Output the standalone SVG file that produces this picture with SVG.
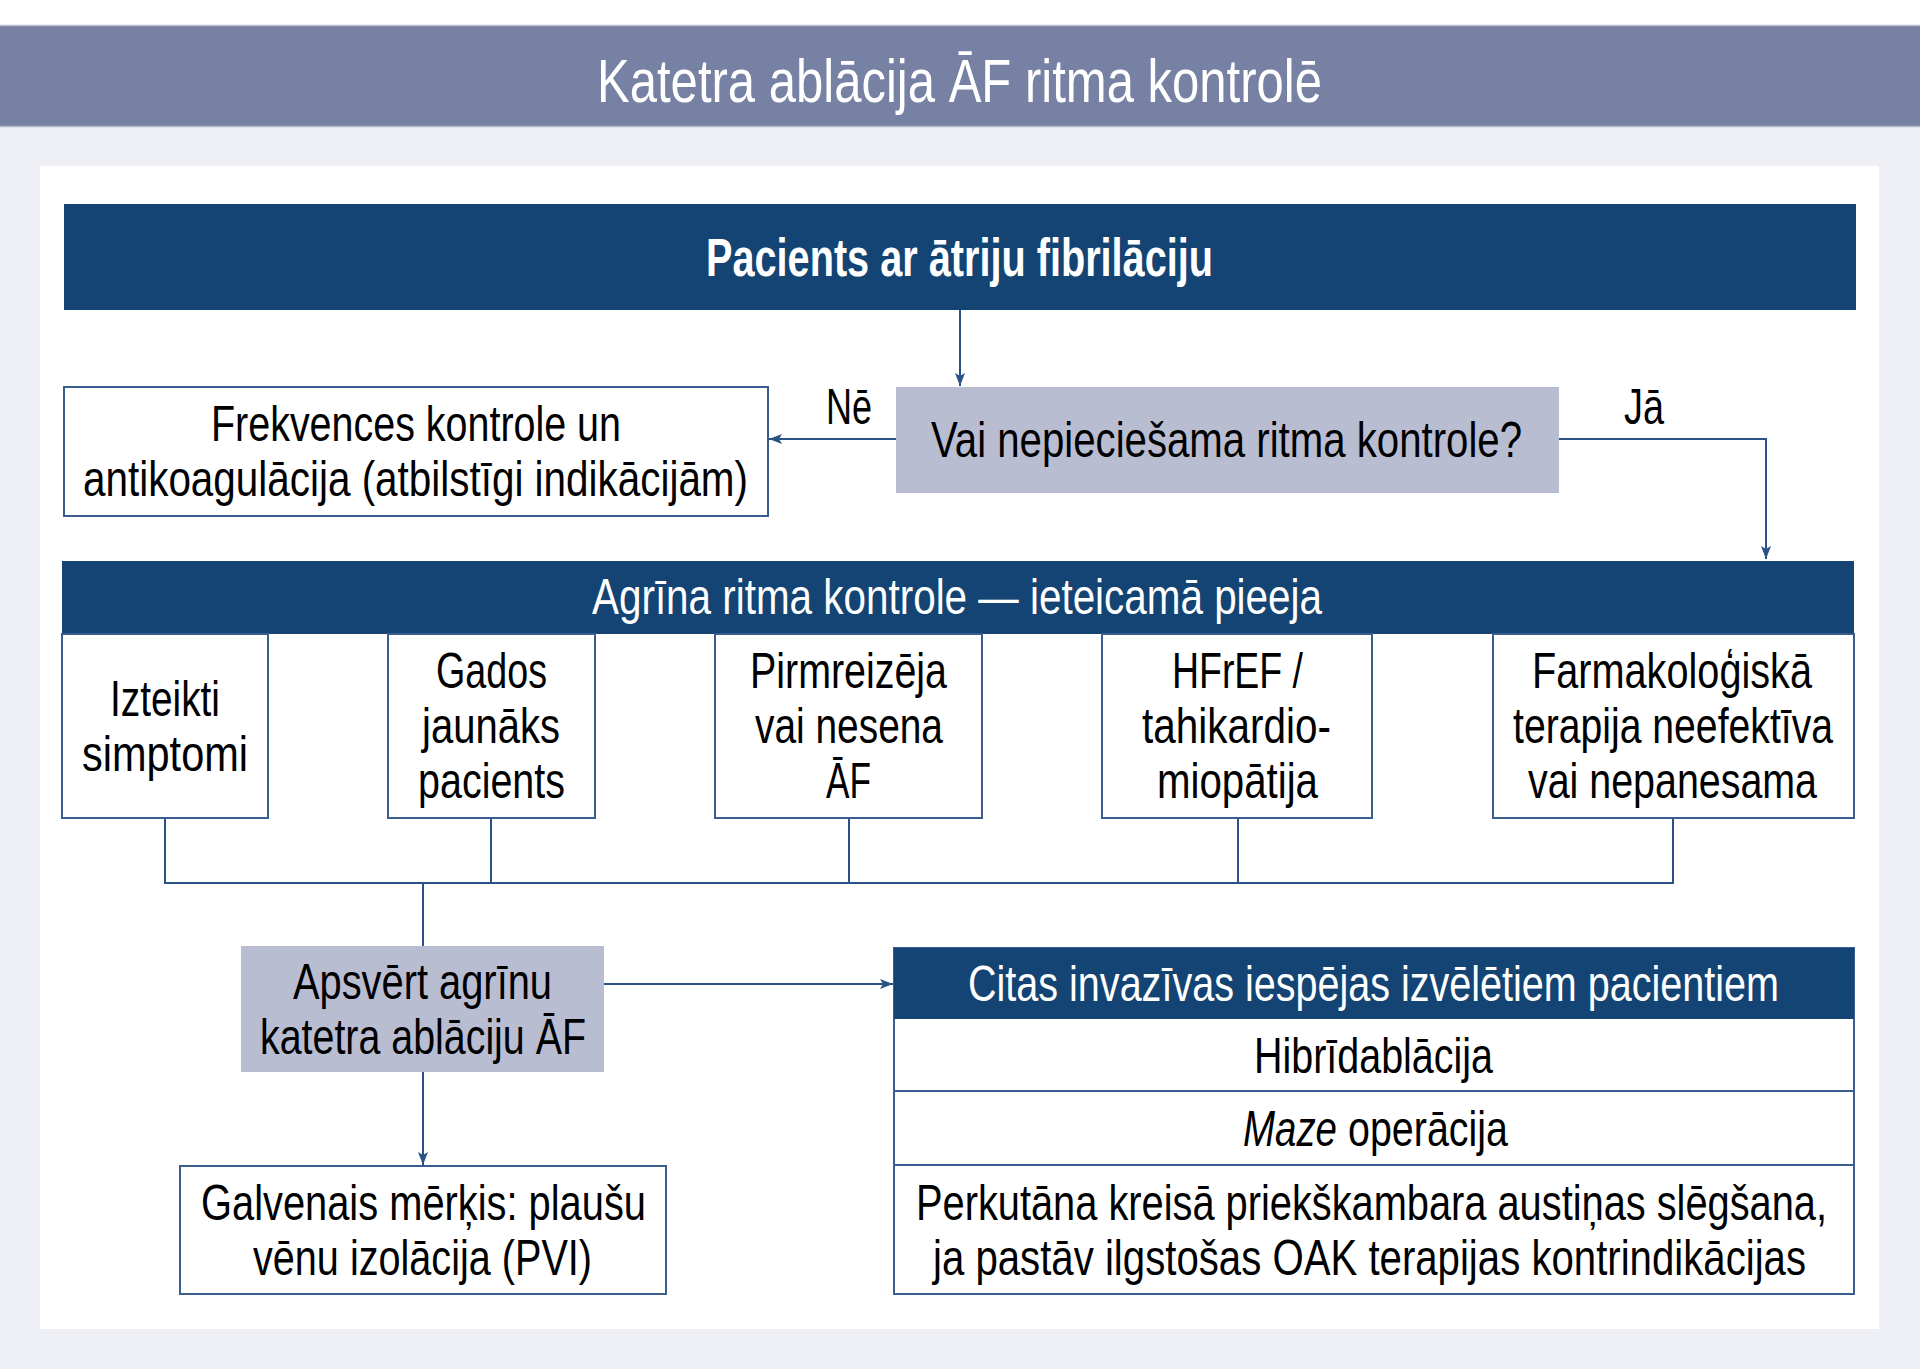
<svg xmlns="http://www.w3.org/2000/svg" width="1920" height="1369" viewBox="0 0 1920 1369">
<defs>
<style>
.t{font-family:"Liberation Sans",Arial,sans-serif;font-size:50px;fill:#000}
.w{fill:#fff}
.b{font-weight:bold}
.box{fill:#fff;stroke:#3a5d8f;stroke-width:2}
.dark{fill:#134473}
.grey{fill:#b9bdd2}
.ln{fill:none;stroke:#2b5287;stroke-width:2}
</style>
<marker id="ah" markerUnits="userSpaceOnUse" markerWidth="14" markerHeight="12" refX="13" refY="6" orient="auto">
<path d="M0,1 L13,6 L0,11 L3,6 Z" fill="#2b5287"/>
</marker>
</defs>
<rect x="0" y="0" width="1920" height="1369" fill="#eeeff4"/>
<rect x="0" y="0" width="1920" height="25" fill="#fff"/>
<rect x="0" y="25" width="1920" height="102" fill="#7781a3"/>
<line x1="0" y1="25.5" x2="1920" y2="25.5" stroke="#b6bacd" stroke-width="1.5"/>
<line x1="0" y1="126.5" x2="1920" y2="126.5" stroke="#b6bacd" stroke-width="1.5"/>
<text class="t w" x="597" y="102" style="font-size:61px" textLength="725" lengthAdjust="spacingAndGlyphs">Katetra ablācija ĀF ritma kontrolē</text>
<rect x="40" y="166" width="1839" height="1163" fill="#fff"/>

<g id="connectors">
<line class="ln" x1="960" y1="310" x2="960" y2="386" marker-end="url(#ah)"/>
<line class="ln" x1="896" y1="439" x2="769" y2="439" marker-end="url(#ah)"/>
<polyline class="ln" points="1559,439 1766,439 1766,559" marker-end="url(#ah)"/>
<line class="ln" x1="165" y1="818" x2="165" y2="883"/>
<line class="ln" x1="491" y1="818" x2="491" y2="883"/>
<line class="ln" x1="849" y1="818" x2="849" y2="883"/>
<line class="ln" x1="1238" y1="818" x2="1238" y2="883"/>
<line class="ln" x1="1673" y1="818" x2="1673" y2="883"/>
<line class="ln" x1="164" y1="883" x2="1674" y2="883"/>
<line class="ln" x1="423" y1="883" x2="423" y2="946"/>
<line class="ln" x1="604" y1="984" x2="893" y2="984" marker-end="url(#ah)"/>
<line class="ln" x1="423" y1="1072" x2="423" y2="1165" marker-end="url(#ah)"/>
<text class="t" x="826" y="424" textLength="46" lengthAdjust="spacingAndGlyphs">Nē</text>
<text class="t" x="1624" y="424" textLength="40" lengthAdjust="spacingAndGlyphs">Jā</text>
</g>

<g id="start">
<rect class="dark" x="64" y="204" width="1792" height="106"/>
<text class="t w b" x="706" y="276" style="font-size:54px" textLength="507" lengthAdjust="spacingAndGlyphs">Pacients ar ātriju fibrilāciju</text>
</g>

<g id="decision">
<rect class="grey" x="896" y="387" width="663" height="106"/>
<text class="t" x="931" y="457" textLength="591" lengthAdjust="spacingAndGlyphs">Vai nepieciešama ritma kontrole?</text>
</g>

<g id="rate">
<rect class="box" x="64" y="387" width="704" height="129"/>
<text class="t" x="211" y="441" textLength="410" lengthAdjust="spacingAndGlyphs">Frekvences kontrole un</text>
<text class="t" x="83" y="496" textLength="665" lengthAdjust="spacingAndGlyphs">antikoagulācija (atbilstīgi indikācijām)</text>
</g>

<g id="early">
<rect class="dark" x="62" y="561" width="1792" height="73"/>
<text class="t w" x="592" y="614" textLength="730" lengthAdjust="spacingAndGlyphs">Agrīna ritma kontrole — ieteicamā pieeja</text>
</g>

<g id="c1">
<rect class="box" x="62" y="634" width="206" height="184"/>
<text class="t" x="110" y="716" textLength="110" lengthAdjust="spacingAndGlyphs">Izteikti</text>
<text class="t" x="82" y="771" textLength="166" lengthAdjust="spacingAndGlyphs">simptomi</text>
</g>
<g id="c2">
<rect class="box" x="388" y="634" width="207" height="184"/>
<text class="t" x="436" y="688" textLength="111" lengthAdjust="spacingAndGlyphs">Gados</text>
<text class="t" x="422" y="743" textLength="138" lengthAdjust="spacingAndGlyphs">jaunāks</text>
<text class="t" x="418" y="798" textLength="147" lengthAdjust="spacingAndGlyphs">pacients</text>
</g>
<g id="c3">
<rect class="box" x="715" y="634" width="267" height="184"/>
<text class="t" x="750" y="688" textLength="197" lengthAdjust="spacingAndGlyphs">Pirmreizēja</text>
<text class="t" x="755" y="743" textLength="188" lengthAdjust="spacingAndGlyphs">vai nesena</text>
<text class="t" x="826" y="798" textLength="45" lengthAdjust="spacingAndGlyphs">ĀF</text>
</g>
<g id="c4">
<rect class="box" x="1102" y="634" width="270" height="184"/>
<text class="t" x="1172" y="688" textLength="131" lengthAdjust="spacingAndGlyphs">HFrEF /</text>
<text class="t" x="1142" y="743" textLength="189" lengthAdjust="spacingAndGlyphs">tahikardio-</text>
<text class="t" x="1157" y="798" textLength="161" lengthAdjust="spacingAndGlyphs">miopātija</text>
</g>
<g id="c5">
<rect class="box" x="1493" y="634" width="361" height="184"/>
<text class="t" x="1532" y="688" textLength="280" lengthAdjust="spacingAndGlyphs">Farmakoloģiskā</text>
<text class="t" x="1513" y="743" textLength="320" lengthAdjust="spacingAndGlyphs">terapija neefektīva</text>
<text class="t" x="1528" y="798" textLength="289" lengthAdjust="spacingAndGlyphs">vai nepanesama</text>
</g>

<g id="consider">
<rect class="grey" x="241" y="946" width="363" height="126"/>
<text class="t" x="293" y="999" textLength="259" lengthAdjust="spacingAndGlyphs">Apsvērt agrīnu</text>
<text class="t" x="260" y="1054" textLength="326" lengthAdjust="spacingAndGlyphs">katetra ablāciju ĀF</text>
</g>

<g id="pvi">
<rect class="box" x="180" y="1166" width="486" height="128"/>
<text class="t" x="201" y="1220" textLength="445" lengthAdjust="spacingAndGlyphs">Galvenais mērķis: plaušu</text>
<text class="t" x="253" y="1275" textLength="339" lengthAdjust="spacingAndGlyphs">vēnu izolācija (PVI)</text>
</g>

<g id="other">
<rect class="box" x="894" y="948" width="960" height="346"/>
<rect class="dark" x="894" y="948" width="960" height="71"/>
<line x1="894" y1="1091" x2="1854" y2="1091" stroke="#3a5d8f" stroke-width="2"/>
<line x1="894" y1="1165" x2="1854" y2="1165" stroke="#3a5d8f" stroke-width="2"/>
<text class="t w" x="968" y="1001" textLength="811" lengthAdjust="spacingAndGlyphs">Citas invazīvas iespējas izvēlētiem pacientiem</text>
<text class="t" x="1254" y="1073" textLength="239" lengthAdjust="spacingAndGlyphs">Hibrīdablācija</text>
<text class="t" x="1243" y="1146" font-style="italic" textLength="94" lengthAdjust="spacingAndGlyphs">Maze</text>
<text class="t" x="1348" y="1146" textLength="160" lengthAdjust="spacingAndGlyphs">operācija</text>
<text class="t" x="916" y="1220" textLength="911" lengthAdjust="spacingAndGlyphs">Perkutāna kreisā priekškambara austiņas slēgšana,</text>
<text class="t" x="933" y="1275" textLength="873" lengthAdjust="spacingAndGlyphs">ja pastāv ilgstošas OAK terapijas kontrindikācijas</text>
</g>
</svg>
